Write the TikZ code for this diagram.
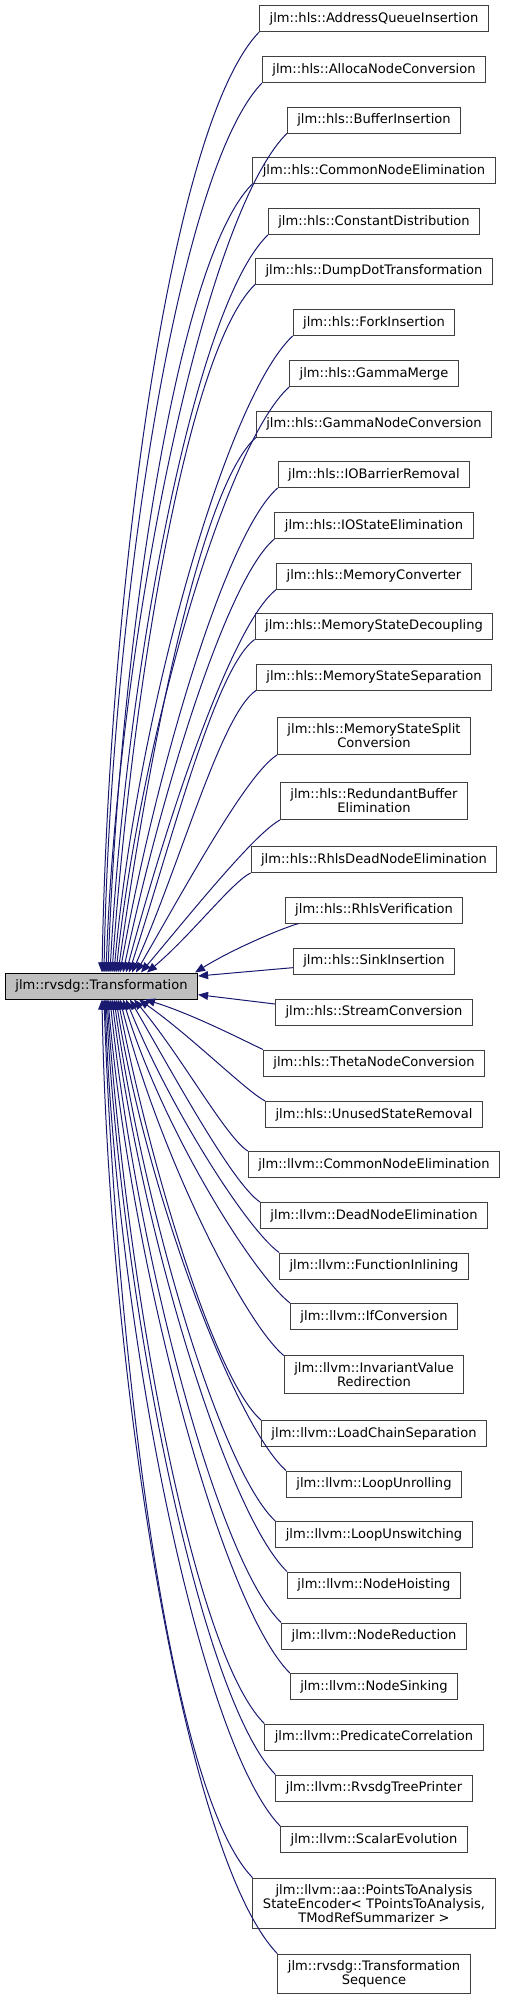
\documentclass[tikz,border=0pt]{standalone}
\usepackage{fontspec}
\setmainfont{DejaVu Sans}
\definecolor{edgeblue}{RGB}{25,25,112}
\definecolor{boxgray}{RGB}{64,64,64}
\definecolor{basefill}{RGB}{191,191,191}
\usetikzlibrary{arrows.meta,calc}

\begin{document}
\begin{tikzpicture}[x=0.75pt,y=-0.75pt,
  derived/.style={draw=boxgray,line width=0.75pt,fill=white,align=center,inner xsep=7.5pt,inner ysep=4.9pt,minimum height=19.5pt,font=\fontsize{9.8}{10.4}\selectfont},
  baseclass/.style={derived,draw=black,fill=basefill},
  inherit/.style={edgeblue,line width=0.75pt,-{Triangle[length=7.5pt,width=6pt]},out looseness=0.35}]
  \useasboundingbox (0,0) rectangle (507,2003);
  % base class
  \node[baseclass] (tr) at (101.5,986) {jlm::rvsdg::Transformation};
  % hls passes
  \node[derived] (aqi) at (374,18.5) {jlm::hls::AddressQueueInsertion};
  \node[derived] (anc) at (374,69.5) {jlm::hls::AllocaNodeConversion};
  \node[derived] (bi) at (374,120) {jlm::hls::BufferInsertion};
  \node[derived] (hcne) at (374,170.5) {jlm::hls::CommonNodeElimination};
  \node[derived] (cd) at (374,221.5) {jlm::hls::ConstantDistribution};
  \node[derived] (ddt) at (374,271) {jlm::hls::DumpDotTransformation};
  \node[derived] (fi) at (374,322.5) {jlm::hls::ForkInsertion};
  \node[derived] (gm) at (374,373.5) {jlm::hls::GammaMerge};
  \node[derived] (gnc) at (374,424) {jlm::hls::GammaNodeConversion};
  \node[derived] (iobr) at (374,474.5) {jlm::hls::IOBarrierRemoval};
  \node[derived] (iose) at (374,525.5) {jlm::hls::IOStateElimination};
  \node[derived] (mc) at (374,576) {jlm::hls::MemoryConverter};
  \node[derived] (msd) at (374,626) {jlm::hls::MemoryStateDecoupling};
  \node[derived] (mss) at (374,677) {jlm::hls::MemoryStateSeparation};
  \node[derived] (mssc) at (374,736) {jlm::hls::MemoryStateSplit\\Conversion};
  \node[derived] (rbe) at (374,801) {jlm::hls::RedundantBuffer\\Elimination};
  \node[derived] (rdne) at (374,859.5) {jlm::hls::RhlsDeadNodeElimination};
  \node[derived] (rv) at (374,910) {jlm::hls::RhlsVerification};
  \node[derived] (si) at (374,961) {jlm::hls::SinkInsertion};
  \node[derived] (sc) at (374,1012) {jlm::hls::StreamConversion};
  \node[derived] (tnc) at (374,1063) {jlm::hls::ThetaNodeConversion};
  \node[derived] (usr) at (374,1114.5) {jlm::hls::UnusedStateRemoval};
  % llvm passes
  \node[derived] (lcne) at (374,1164.5) {jlm::llvm::CommonNodeElimination};
  \node[derived] (dne) at (374,1215.5) {jlm::llvm::DeadNodeElimination};
  \node[derived] (finl) at (374,1266) {jlm::llvm::FunctionInlining};
  \node[derived] (ifc) at (374,1316.5) {jlm::llvm::IfConversion};
  \node[derived] (ivr) at (374,1374.5) {jlm::llvm::InvariantValue\\Redirection};
  \node[derived] (lcs) at (374,1433.5) {jlm::llvm::LoadChainSeparation};
  \node[derived] (lu) at (374,1484) {jlm::llvm::LoopUnrolling};
  \node[derived] (lus) at (374,1534.5) {jlm::llvm::LoopUnswitching};
  \node[derived] (nh) at (374,1585) {jlm::llvm::NodeHoisting};
  \node[derived] (nr) at (374,1636) {jlm::llvm::NodeReduction};
  \node[derived] (ns) at (374,1686.5) {jlm::llvm::NodeSinking};
  \node[derived] (pc) at (374,1737) {jlm::llvm::PredicateCorrelation};
  \node[derived] (rtp) at (374,1788) {jlm::llvm::RvsdgTreePrinter};
  \node[derived] (se) at (374,1839.5) {jlm::llvm::ScalarEvolution};
  \node[derived] (ptase) at (374,1903.5) {jlm::llvm::aa::PointsToAnalysis\\StateEncoder< TPointsToAnalysis,\\TModRefSummarizer >};
  \node[derived] (tseq) at (374,1974) {jlm::rvsdg::Transformation\\Sequence};
  % edges into the top side
  \draw[inherit] (aqi.south west) to[out=226,in=89] ($(tr.north)+(0.5,0)$);
  \draw[inherit] (anc.south west) to[out=226,in=89] ($(tr.north)+(2.5,0)$);
  \draw[inherit] (bi.south west) to[out=225,in=88] ($(tr.north)+(4.5,0)$);
  \draw[inherit] (hcne.south west) to[out=225,in=88] ($(tr.north)+(6.5,0)$);
  \draw[inherit] (cd.south west) to[out=224,in=87] ($(tr.north)+(8.5,0)$);
  \draw[inherit] (ddt.south west) to[out=224,in=86] ($(tr.north)+(10.5,0)$);
  \draw[inherit] (fi.south west) to[out=223,in=85] ($(tr.north)+(12.5,0)$);
  \draw[inherit] (gm.south west) to[out=222,in=84] ($(tr.north)+(14.5,0)$);
  \draw[inherit] (gnc.south west) to[out=222,in=82] ($(tr.north)+(16.5,0)$);
  \draw[inherit] (iobr.south west) to[out=221,in=80] ($(tr.north)+(18.5,0)$);
  \draw[inherit] (iose.south west) to[out=220,in=78] ($(tr.north)+(21.5,0)$);
  \draw[inherit] (mc.south west) to[out=218,in=75] ($(tr.north)+(24.5,0)$);
  \draw[inherit] (msd.south west) to[out=216,in=72] ($(tr.north)+(27.5,0)$);
  \draw[inherit] (mss.south west) to[out=214,in=66] ($(tr.north)+(30.5,0)$);
  \draw[inherit] (mssc.south west) to[out=212,in=60] ($(tr.north)+(34.5,0)$);
  \draw[inherit] (rbe.south west) to[out=208,in=50] ($(tr.north)+(39.5,0)$);
  \draw[inherit] (rdne.south west) to[out=205,in=40] ($(tr.north)+(45.5,0)$);
  \draw[inherit] ($(rv.south west)+(14,0)$) to[out=195,in=32] ($(tr.north east)+(-3,0)$);
  % edges into the right side
  \draw[inherit] ([yshift=-5pt]si.west) -- ([yshift=7.5pt]tr.east);
  \draw[inherit] ([yshift=6pt]sc.west) -- ([yshift=-6.5pt]tr.east);
  % edges into the bottom side
  \draw[inherit] (tnc.north west) to[out=155,in=343] ($(tr.south)+(43.5,0)$);
  \draw[inherit] (usr.north west) to[out=152,in=325] ($(tr.south)+(37.5,0)$);
  \draw[inherit] (lcne.north west) to[out=148,in=310] ($(tr.south)+(32.5,0)$);
  \draw[inherit] (dne.north west) to[out=146,in=300] ($(tr.south)+(28.5,0)$);
  \draw[inherit] (finl.north west) to[out=144,in=292] ($(tr.south)+(24.5,0)$);
  \draw[inherit] (ifc.north west) to[out=142,in=287] ($(tr.south)+(21.5,0)$);
  \draw[inherit] (ivr.north west) to[out=140,in=284] ($(tr.south)+(18.5,0)$);
  \draw[inherit] (lcs.north west) to[out=139,in=281] ($(tr.south)+(16.5,0)$);
  \draw[inherit] (lu.north west) to[out=138,in=279] ($(tr.south)+(14.5,0)$);
  \draw[inherit] (lus.north west) to[out=137,in=278] ($(tr.south)+(12.5,0)$);
  \draw[inherit] (nh.north west) to[out=136,in=277] ($(tr.south)+(10.5,0)$);
  \draw[inherit] (nr.north west) to[out=136,in=276] ($(tr.south)+(8.5,0)$);
  \draw[inherit] (ns.north west) to[out=135,in=275] ($(tr.south)+(6.5,0)$);
  \draw[inherit] (pc.north west) to[out=135,in=274] ($(tr.south)+(5.5,0)$);
  \draw[inherit] (rtp.north west) to[out=134,in=273] ($(tr.south)+(4.5,0)$);
  \draw[inherit] (se.north west) to[out=134,in=272] ($(tr.south)+(3.5,0)$);
  \draw[inherit] (ptase.north west) to[out=134,in=272] ($(tr.south)+(2.5,0)$);
  \draw[inherit] (tseq.north west) to[out=134,in=271] ($(tr.south)+(0.5,0)$);
\end{tikzpicture}
\end{document}
